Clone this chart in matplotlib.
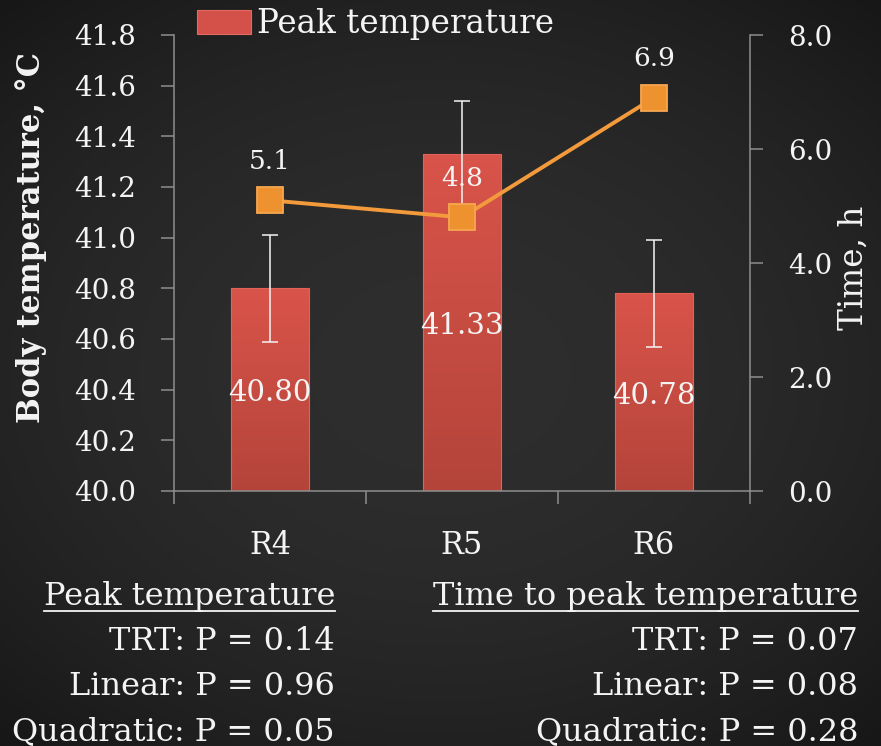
import numpy as np
import matplotlib
matplotlib.use("Agg")
import matplotlib.pyplot as plt
from matplotlib.lines import Line2D
from matplotlib.patches import Rectangle
from matplotlib.colors import LinearSegmentedColormap

# ---- data ----
treatments = ["R4", "R5", "R6"]
peak_temp = [40.80, 41.33, 40.78]
peak_temp_se = [0.21, 0.21, 0.21]
peak_temp_labels = ["40.80", "41.33", "40.78"]
time_to_peak = [5.1, 4.8, 6.9]
time_labels = ["5.1", "4.8", "6.9"]
temp_ticks = [40.0, 40.2, 40.4, 40.6, 40.8, 41.0, 41.2, 41.4, 41.6, 41.8]
time_ticks = [0.0, 2.0, 4.0, 6.0, 8.0]
stats_temp_title = "Peak temperature"
stats_temp = ["TRT: P = 0.14", "Linear: P = 0.96", "Quadratic: P = 0.05"]
stats_time_title = "Time to peak temperature"
stats_time = ["TRT: P = 0.07", "Linear: P = 0.08", "Quadratic: P = 0.28"]

# ---- style ----
W, H, DPI = 881, 746, 100
FONT = "DejaVu Serif"
plt.rcParams["font.family"] = [FONT]
WHITE = "#f4f4f4"
GRAY = "#8e8e8e"
BAR_TOP = "#d9544a"
BAR_BOT = "#b4443a"
ORANGE = "#f39a3c"

fig = plt.figure(figsize=(W / DPI, H / DPI), dpi=DPI)
fig.patch.set_facecolor("#2a2a2a")

# chalkboard-like dark background with a soft vignette
bg = fig.add_axes([0, 0, 1, 1], zorder=-10)
yy, xx = np.mgrid[-1:1:300j, -1:1:360j]
rr = np.sqrt((xx * 0.9) ** 2 + (yy * 1.0) ** 2)
shade = 0.18 - 0.05 * rr ** 2
bg.imshow(np.dstack([shade, shade, shade]).clip(0, 1), aspect="auto",
          extent=[0, 1, 0, 1], interpolation="bilinear")
bg.set_axis_off()


def px_to_fig(x, y):
    return x / W, 1 - y / H


left, right, top, bottom = 174, 750, 35, 491
ax = fig.add_axes([left / W, 1 - bottom / H, (right - left) / W, (bottom - top) / H])
ax.set_facecolor("none")

x = np.arange(len(treatments))
bar_w = 0.405
bars = ax.bar(x, [v - 40.0 for v in peak_temp], width=bar_w, bottom=40.0,
              facecolor="none", edgecolor="#e06258", linewidth=0.8, zorder=2)

grad_cmap = LinearSegmentedColormap.from_list("bar", [BAR_BOT, BAR_TOP])
grad = np.linspace(0, 1, 256).reshape(-1, 1)
for b, v in zip(bars, peak_temp):
    x0 = b.get_x()
    im = ax.imshow(grad, cmap=grad_cmap, origin="lower", aspect="auto",
                   extent=[x0, x0 + bar_w, 40.0, v], zorder=1.5)
    im.set_clip_path(b)

ax.errorbar(x, peak_temp, yerr=peak_temp_se, fmt="none", ecolor=WHITE,
            elinewidth=1.1, capsize=5.5, capthick=1.1, zorder=3)

for xi, v, lab in zip(x, peak_temp, peak_temp_labels):
    ax.text(xi, (40.0 + v) / 2 - 0.015, lab, ha="center", va="center",
            color=WHITE, fontsize=21, zorder=4)

ax.set_xlim(-0.5, 2.5)
ax.set_ylim(40.0, 41.8)
ax.set_yticks(temp_ticks)
ax.set_yticklabels([f"{t:.1f}" for t in temp_ticks])
ax.set_xticks([-0.5, 0.5, 1.5, 2.5])
ax.set_xticklabels([])
ax.set_xticks(x, minor=True)
ax.set_xticklabels(treatments, minor=True)
ax.tick_params(axis="x", which="minor", length=0, pad=28, labelsize=22,
               labelcolor=WHITE)
ax.tick_params(axis="x", which="major", length=9.5, width=1.1, color=GRAY,
               direction="out")
ax.tick_params(axis="y", length=9.5, width=1.1, color=GRAY, direction="out",
               pad=18, labelsize=20, labelcolor=WHITE)
for s in ["top", "right"]:
    ax.spines[s].set_visible(False)
for s in ["left", "bottom"]:
    ax.spines[s].set_color(GRAY)
    ax.spines[s].set_linewidth(1.1)
ax.set_ylabel("Body temperature, \u00b0C", fontsize=22, fontweight="bold",
              color=WHITE)
ax.yaxis.set_label_coords(-0.22, 0.555)

# ---- secondary axis: time to peak ----
ax2 = ax.twinx()
ax2.set_ylim(0, 8)
ax2.set_yticks(time_ticks)
ax2.set_yticklabels([f"{t:.1f}" for t in time_ticks])
ax2.plot(x, time_to_peak, color=ORANGE, linewidth=2.8, marker="s",
         markersize=19, markerfacecolor="#ee922f", markeredgecolor="#f6a750",
         markeredgewidth=1.3, zorder=5)
for xi, v, lab in zip(x, time_to_peak, time_labels):
    ax2.annotate(lab, (xi, v), xytext=(0, 28), textcoords="offset points",
                 ha="center", va="center", color=WHITE, fontsize=19)
for s in ["top", "left", "bottom"]:
    ax2.spines[s].set_visible(False)
ax2.spines["right"].set_color(GRAY)
ax2.spines["right"].set_linewidth(1.1)
ax2.tick_params(axis="y", length=9.5, width=1.1, color=GRAY, direction="out",
                pad=18, labelsize=20, labelcolor=WHITE)
ax2.set_ylabel("Time, h", fontsize=23.5, color=WHITE, rotation=90)
ax2.yaxis.set_label_coords(1.153, 0.49)

# ---- legend ----
proxy = Rectangle((0, 0), 1, 1, facecolor="#d4514a", edgecolor="#e26a60",
                  linewidth=0.8)
leg = fig.legend([proxy], ["Peak temperature"], loc="upper left",
                 bbox_to_anchor=px_to_fig(197, 8), frameon=False,
                 fontsize=23.5, handlelength=1.65, handleheight=0.75,
                 handletextpad=0.2, borderpad=0, borderaxespad=0)
for t in leg.get_texts():
    t.set_color(WHITE)

# ---- statistics text below the chart ----
fs_stats = 23
blocks = [(335, stats_temp_title, stats_temp), (858, stats_time_title, stats_time)]
titles = []
for xr, title, rows in blocks:
    tx, ty = px_to_fig(xr, 605)
    titles.append(fig.text(tx, ty, title, ha="right", va="baseline",
                           color=WHITE, fontsize=fs_stats))
    for i, row in enumerate(rows):
        rx, ry = px_to_fig(xr, 650 + 45 * i)
        fig.text(rx, ry, row, ha="right", va="baseline", color=WHITE,
                 fontsize=fs_stats)

fig.canvas.draw()
renderer = fig.canvas.get_renderer()
for t in titles:
    bb = t.get_window_extent(renderer)
    y_line = 1 - 611 / H
    fig.add_artist(Line2D([bb.x0 / W, bb.x1 / W], [y_line, y_line],
                          color=WHITE, linewidth=1.3))

fig.savefig("out.png", dpi=DPI, facecolor=fig.get_facecolor())
